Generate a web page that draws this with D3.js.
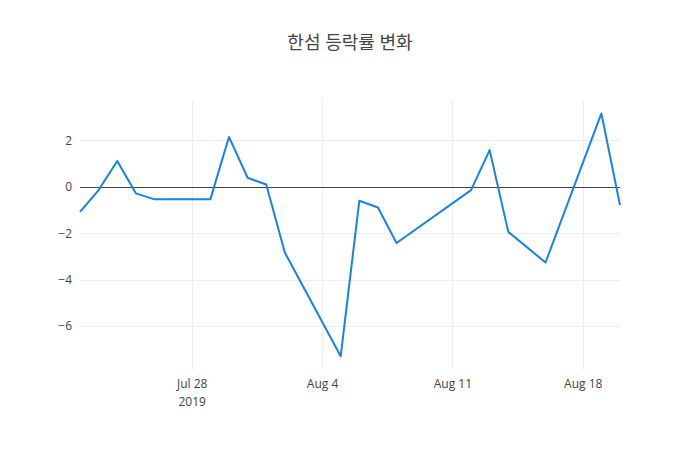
<!DOCTYPE html>
<html>
<head>
<meta charset="utf-8">
<script src="https://cdn.jsdelivr.net/npm/d3@7"></script>
<style>
  body { margin: 0; background: #fff; }
  .tick text { font-family: "Open Sans", "Noto Sans", sans-serif; font-size: 12px; fill: #444; }
</style>
</head>
<body>
<div id="chart"></div>
<script>
// Trading days and daily change (%)
const dates = ["2019-07-22", "2019-07-23", "2019-07-24", "2019-07-25", "2019-07-26",
  "2019-07-29", "2019-07-30", "2019-07-31", "2019-08-01", "2019-08-02",
  "2019-08-05", "2019-08-06", "2019-08-07", "2019-08-08",
  "2019-08-12", "2019-08-13", "2019-08-14", "2019-08-16",
  "2019-08-19", "2019-08-20"];
const changes = [-1.08, -0.14, 1.11, -0.28, -0.54,
  -0.54, 2.15, 0.39, 0.10, -2.83,
  -7.30, -0.60, -0.89, -2.42,
  -0.14, 1.58, -1.94, -3.26,
  3.16, -0.79];
const yTicks = [-6, -4, -2, 0, 2];
const xTicks = ["2019-07-28", "2019-08-04", "2019-08-11", "2019-08-18"];

const margin = {top: 100, right: 80, bottom: 80, left: 80},
      width = 700 - margin.left - margin.right,
      height = 450 - margin.top - margin.bottom;

const parse = d3.utcParse("%Y-%m-%d");
const data = dates.map((d, i) => ({date: parse(d), value: changes[i]}));

const svg = d3.select("#chart")
  .append("svg")
    .attr("width", 700)
    .attr("height", 450);

svg.append("text")
  .attr("x", 350)
  .attr("y", 49)
  .attr("text-anchor", "middle")
  .style("font-family", "'Open Sans', 'Noto Sans CJK KR', sans-serif")
  .style("font-size", "18px")
  .style("fill", "#444")
  .text("한섬 등락률 변화");

const g = svg.append("g")
  .attr("transform", `translate(${margin.left},${margin.top})`);

const x = d3.scaleUtc()
  .domain(d3.extent(data, d => d.date))
  .range([0, width]);

const y = d3.scaleLinear()
  .domain([-7.89, 3.74])
  .range([height, 0]);

// Grid lines
g.append("g")
  .selectAll("line")
  .data(xTicks.map(parse))
  .join("line")
    .attr("x1", d => Math.round(x(d)) + 0.5).attr("x2", d => Math.round(x(d)) + 0.5)
    .attr("y1", 0).attr("y2", height)
    .attr("stroke", "#eee");

g.append("g")
  .selectAll("line")
  .data(yTicks.filter(t => t !== 0))
  .join("line")
    .attr("x1", 0).attr("x2", width)
    .attr("y1", d => Math.round(y(d)) + 0.5).attr("y2", d => Math.round(y(d)) + 0.5)
    .attr("stroke", "#eee");

// X axis
const fmt = d3.utcFormat("%b %-d");
const xAxis = g.append("g")
  .attr("transform", `translate(0,${height})`)
  .call(d3.axisBottom(x).tickValues(xTicks.map(parse)).tickSize(0).tickPadding(9).tickFormat(fmt));
xAxis.select(".domain").remove();
xAxis.selectAll(".tick")
  .filter((d, i) => i === 0)
  .append("text")
    .attr("y", 27)
    .attr("dy", "0.71em")
    .attr("text-anchor", "middle")
    .text("2019");

// Y axis
const yAxis = g.append("g")
  .call(d3.axisLeft(y).tickValues(yTicks).tickSize(0).tickPadding(8)
    .tickFormat(d => d < 0 ? "\u2212" + Math.abs(d) : d));
yAxis.select(".domain").remove();

// Zero line
g.append("line")
  .attr("x1", 0).attr("x2", width)
  .attr("y1", Math.round(y(0)) + 0.5).attr("y2", Math.round(y(0)) + 0.5)
  .attr("stroke", "#444")
  .attr("stroke-width", 1);

// Line
g.append("path")
  .datum(data)
  .attr("fill", "none")
  .attr("stroke", "#1782e8")
  .attr("stroke-width", 2)
  .attr("stroke-linejoin", "round")
  .attr("d", d3.line().x(d => x(d.date)).y(d => y(d.value)));
</script>
</body>
</html>
